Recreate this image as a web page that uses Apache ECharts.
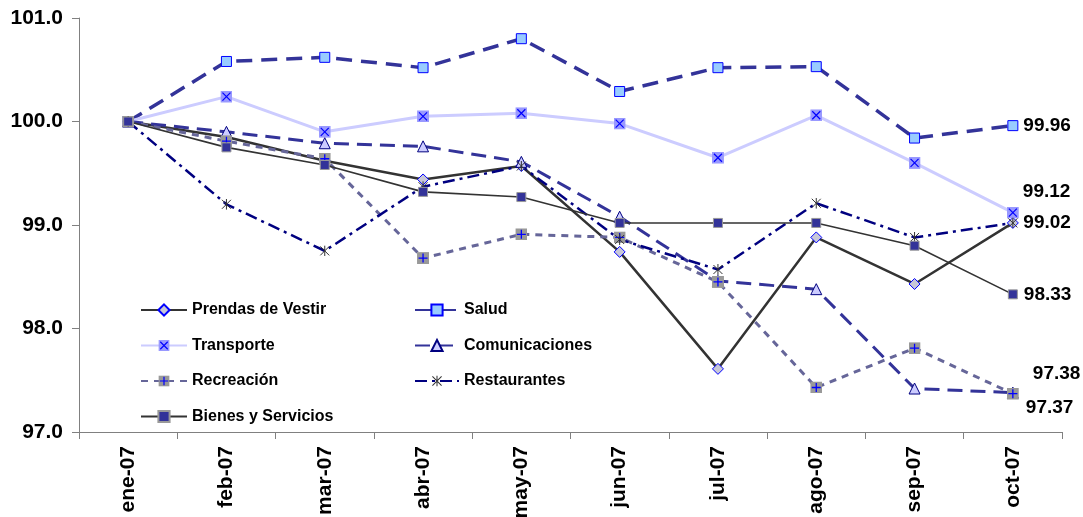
<!DOCTYPE html>
<html><head><meta charset="utf-8">
<script src="https://cdn.jsdelivr.net/npm/echarts@6/dist/echarts.min.js"></script>
<style>html,body{margin:0;padding:0;background:#fff}#c{width:1083px;height:517px}</style>
</head><body><div id="c"></div><script>
const categories = ['ene-07','feb-07','mar-07','abr-07','may-07','jun-07','jul-07','ago-07','sep-07','oct-07'];
const prendas        = [100, 99.85, 99.62, 99.44, 99.57, 98.74, 97.61, 98.88, 98.43, 99.02];
const salud          = [100, 100.58, 100.62, 100.52, 100.80, 100.29, 100.52, 100.53, 99.84, 99.96];
const transporte     = [100, 100.24, 99.90, 100.05, 100.08, 99.98, 99.65, 100.06, 99.60, 99.12];
const comunicaciones = [100, 99.90, 99.79, 99.76, 99.61, 99.08, 98.46, 98.38, 97.42, 97.38];
const recreacion     = [100, 99.81, 99.64, 98.68, 98.91, 98.88, 98.45, 97.43, 97.81, 97.37];
const restaurantes   = [100, 99.20, 98.75, 99.37, 99.57, 98.86, 98.57, 99.21, 98.88, 99.02];
const bienes         = [100, 99.75, 99.58, 99.32, 99.27, 99.02, 99.02, 99.02, 98.80, 98.33];
const yMin = 97, yMax = 101, yStep = 1;

function svgSym(svg){ return 'image://data:image/svg+xml;charset=utf-8,' + encodeURIComponent(svg); }
const symX = svgSym("<svg xmlns='http://www.w3.org/2000/svg' width='12' height='12'><rect width='12' height='12' fill='#9999ff'/><path d='M2 2L10 10M10 2L2 10' stroke='#0000ff' stroke-width='1.2'/></svg>");
const symPlus = svgSym("<svg xmlns='http://www.w3.org/2000/svg' width='12' height='12'><rect width='12' height='12' fill='#999999'/><path d='M6 1.5V10.5M1.5 6H10.5' stroke='#0000ff' stroke-width='1.3'/></svg>");
const symStar = svgSym("<svg xmlns='http://www.w3.org/2000/svg' width='11' height='11'><path d='M1 1L10 10M10 1L1 10M5.5 0V11' stroke='#333333' stroke-width='1'/></svg>");

const labelFont = {fontFamily:'Liberation Sans, Arial, sans-serif', fontWeight:'bold', color:'#000'};

function mk(name, values, line, sym, lbl){
  const last = values.length - 1;
  const data = values.map((v,i) => (i === last && lbl) ? {value:v, label:Object.assign({
      show:true, position:'right', distance:5, fontSize:19,
      formatter: p => Number(p.value).toFixed(2)}, labelFont, lbl)} : v);
  return Object.assign({type:'line', name, data, lineStyle:line, animation:false,
    emphasis:{disabled:true}}, sym);
}

const series = [
  mk('Prendas de Vestir', prendas, {color:'#333333', width:2.5},
     {symbol:'diamond', symbolSize:11, itemStyle:{color:'#c8c8d8', borderColor:'#0000ff', borderWidth:1}}),
  mk('Salud', salud, {color:'#333399', width:3.5, type:[16,9]},
     {symbol:'rect', symbolSize:10, itemStyle:{color:'#99ccff', borderColor:'#0000ff', borderWidth:1}}, {offset:[0,0]}),
  mk('Transporte', transporte, {color:'#ccccff', width:3},
     {symbol:symX, symbolSize:12, itemStyle:{color:'#9999ff'}}, {offset:[-1,-21]}),
  mk('Comunicaciones', comunicaciones, {color:'#333399', width:3, type:[15,8]},
     {symbol:'triangle', symbolSize:11, itemStyle:{color:'#ccccff', borderColor:'#000080', borderWidth:1}}, {offset:[9,-19]}),
  mk('Recreación', recreacion, {color:'#666699', width:3, type:[7,6]},
     {symbol:symPlus, symbolSize:12, itemStyle:{color:'#999999'}}, {offset:[2,14]}),
  mk('Restaurantes', restaurantes, {color:'#000080', width:2.5, type:[12,5,3,5]},
     {symbol:symStar, symbolSize:11, itemStyle:{color:'#333333'}}, {offset:[0,0]}),
  mk('Bienes y Servicios', bienes, {color:'#333333', width:1.6},
     {symbol:'rect', symbolSize:9, itemStyle:{color:'#333399', borderColor:'#999999', borderWidth:1}}, {offset:[1,0]})
];

const legendText = {fontFamily:'Liberation Sans, Arial, sans-serif', fontWeight:'bold', fontSize:16, color:'#000', lineHeight:16};
const option = {
  backgroundColor:'#fff',
  animation:false,
  grid:{left:79, right:21, top:18, bottom:85, containLabel:false, outerBoundsMode:'none'},
  legend:[
    {orient:'vertical', left:140, top:302, itemWidth:46, itemHeight:14, itemGap:19.5, padding:0,
     textStyle:legendText, data:['Prendas de Vestir','Transporte','Recreación','Bienes y Servicios'], selectedMode:false},
    {orient:'vertical', left:414, top:302, itemWidth:44, itemHeight:14, itemGap:19.5, padding:0,
     textStyle:legendText, data:['Salud','Comunicaciones','Restaurantes'], selectedMode:false}
  ],
  xAxis:{type:'category', data:categories, boundaryGap:true,
    axisLine:{lineStyle:{color:'#808080', width:1}},
    axisTick:{show:true, length:7, alignWithLabel:false, lineStyle:{color:'#808080'}},
    axisLabel:{rotate:90, margin:14, fontSize:21, fontWeight:'bold', color:'#000', fontFamily:'Liberation Sans, Arial, sans-serif', interval:0},
    splitLine:{show:false}},
  yAxis:{type:'value', min:yMin, max:yMax, interval:yStep,
    axisLine:{show:true, lineStyle:{color:'#808080', width:1}},
    axisTick:{show:true, length:7, lineStyle:{color:'#808080'}},
    axisLabel:{margin:16, fontSize:21, fontWeight:'bold', color:'#000', fontFamily:'Liberation Sans, Arial, sans-serif',
      formatter: v => Number(v).toFixed(1)},
    splitLine:{show:false}},
  series
};
const chart = echarts.init(document.getElementById('c'), null, {renderer:'canvas'});
chart.setOption(option);
</script></body></html>
